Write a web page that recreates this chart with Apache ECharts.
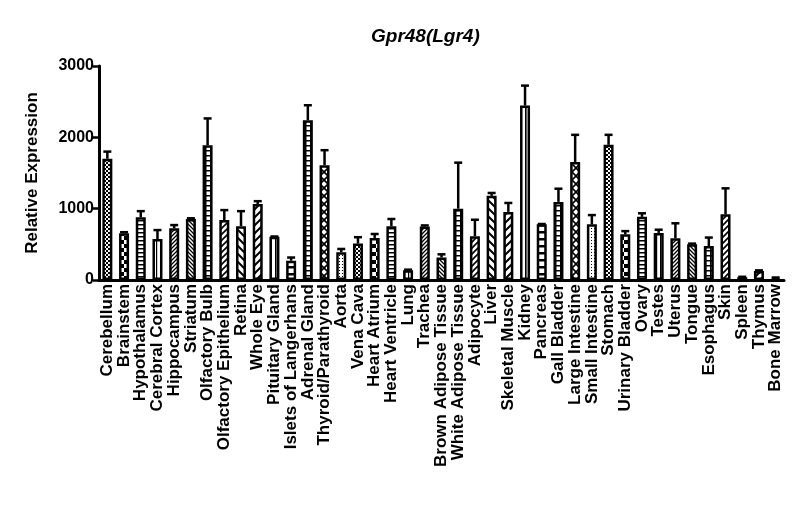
<!DOCTYPE html>
<html>
<head>
    <meta charset="utf-8">
    <script src="https://cdn.jsdelivr.net/npm/echarts@6/dist/echarts.min.js"></script>
    <style>
        html, body { margin: 0; padding: 0; background: #fff; }
        #main { width: 800px; height: 515px; }
    </style>
</head>
<body>
    <div id="main"></div>
    <script>
        var tissues = ['Cerebellum', 'Brainstem', 'Hypothalamus', 'Cerebral Cortex', 'Hippocampus', 'Striatum',
            'Olfactory Bulb', 'Olfactory Epithelium', 'Retina', 'Whole Eye', 'Pituitary Gland',
            'Islets of Langerhans', 'Adrenal Gland', 'Thyroid/Parathyroid', 'Aorta', 'Vena Cava',
            'Heart Atrium', 'Heart Ventricle', 'Lung', 'Trachea', 'Brown Adipose Tissue',
            'White Adipose Tissue', 'Adipocyte', 'Liver', 'Skeletal Muscle', 'Kidney', 'Pancreas',
            'Gall Bladder', 'Large Intestine', 'Small Intestine', 'Stomach', 'Urinary Bladder', 'Ovary',
            'Testes', 'Uterus', 'Tongue', 'Esophagus', 'Skin', 'Spleen', 'Thymus', 'Bone Marrow'];
        var expression = [1700, 655, 880, 575, 725, 855, 1890, 840, 755, 1065, 605,
            270, 2240, 1610, 390, 510, 590, 755, 135, 750, 315,
            1000, 615, 1180, 955, 2445, 780, 1095, 1655, 780, 1895, 640, 885,
            660, 585, 500, 475, 920, 40, 125, 30];
        var sem = [100, 15, 85, 125, 45, 10, 375, 140, 210, 40, 5,
            45, 210, 210, 45, 90, 55, 100, 10, 15, 45,
            645, 230, 40, 125, 280, 5, 185, 380, 130, 140, 45, 50,
            45, 210, 10, 120, 365, 5, 10, 5];
        var yTicks = [0, 1000, 2000, 3000];

        // fill patterns, cycled the way the original plot does it
        var patternCycle = ['checkFine', 'checkLarge', 'hLines', 'vLines', 'diagFineR', 'diagFineL', 'grid',
            'diagMedR', 'diagWideL', 'diagWideR', 'vWide', 'hWide', 'grid', 'cross', 'dots'];

        function makePattern(type) {
            var sizes = { checkFine: 4, checkLarge: 8, hLines: 4, vLines: 4, diagFineR: 4, diagFineL: 4,
                grid: 5, diagMedR: 6, diagWideL: 8, diagWideR: 8, vWide: 5, hWide: 7, cross: 8, dots: 3 };
            var s = sizes[type];
            var c = document.createElement('canvas');
            c.width = s; c.height = s;
            var g = c.getContext('2d');
            g.fillStyle = '#fff';
            g.fillRect(0, 0, s, s);
            g.fillStyle = '#000';
            g.strokeStyle = '#000';
            function diag(dir, w) {
                g.lineWidth = w;
                g.beginPath();
                for (var k = -1; k <= 1; k++) {
                    if (dir > 0) {
                        g.moveTo(k * s - 1, s + 1); g.lineTo(k * s + s + 1, -1);
                    } else {
                        g.moveTo(k * s - 1, -1); g.lineTo(k * s + s + 1, s + 1);
                    }
                }
                g.stroke();
            }
            if (type === 'checkFine') {
                g.fillRect(0, 0, 2, 2); g.fillRect(2, 2, 2, 2);
            } else if (type === 'checkLarge') {
                g.fillRect(0, 0, 4, 4); g.fillRect(4, 4, 4, 4);
            } else if (type === 'hLines') {
                g.fillRect(0, 0, s, 1.5);
            } else if (type === 'vLines') {
                g.fillRect(0, 0, 1.2, s);
            } else if (type === 'diagFineR') {
                diag(1, 1.3);
            } else if (type === 'diagFineL') {
                diag(-1, 1.3);
            } else if (type === 'grid') {
                g.fillRect(0, 0, s, 1.5); g.fillRect(0, 0, 1.5, s);
            } else if (type === 'diagMedR') {
                diag(1, 1.6);
            } else if (type === 'diagWideL') {
                diag(-1, 2);
            } else if (type === 'diagWideR') {
                diag(1, 2);
            } else if (type === 'vWide') {
                g.fillRect(0, 0, 1.6, s);
            } else if (type === 'hWide') {
                g.fillRect(0, 0, s, 2.5);
            } else if (type === 'cross') {
                diag(1, 1.6); diag(-1, 1.6);
            } else if (type === 'dots') {
                g.fillRect(0, 0, 1, 1);
            }
            return { image: c, repeat: 'repeat' };
        }

        var barData = expression.map(function (v, i) {
            return {
                value: v,
                itemStyle: { color: makePattern(patternCycle[i % patternCycle.length]) }
            };
        });
        var errData = expression.map(function (v, i) {
            return [i, v, sem[i]];
        });

        var chart = echarts.init(document.getElementById('main'), null, { renderer: 'canvas' });
        var font = 'Arial, "Liberation Sans", Helvetica, sans-serif';

        var option = {
            animation: false,
            backgroundColor: '#fff',
            title: {
                text: 'Gpr48(Lgr4)',
                left: 366,
                top: 22,
                textStyle: { fontFamily: font, fontSize: 19, fontWeight: 'bold', fontStyle: 'italic', color: '#000' }
            },
            grid: { left: 99, right: 16, top: 66, bottom: 235 },
            xAxis: {
                type: 'category',
                data: tissues,
                axisLine: { lineStyle: { color: '#000', width: 3 } },
                axisTick: { alignWithLabel: true, length: 5, lineStyle: { color: '#000', width: 2 } },
                axisLabel: {
                    interval: 0, rotate: 90, margin: 4,
                    fontFamily: font, fontSize: 17, fontWeight: 'bold', color: '#000'
                }
            },
            yAxis: {
                type: 'value',
                min: 0, max: 3000, interval: 1000,
                name: 'Relative Expression',
                nameLocation: 'middle',
                nameGap: 58,
                nameTextStyle: { fontFamily: font, fontSize: 17, fontWeight: 'bold', color: '#000' },
                splitLine: { show: false },
                axisLine: { show: true, lineStyle: { color: '#000', width: 3 } },
                axisTick: { show: true, length: 6, lineStyle: { color: '#000', width: 2.5 } },
                axisLabel: {
                    margin: 5,
                    fontFamily: font, fontSize: 16, fontWeight: 'bold', color: '#000',
                    formatter: function (v) { return yTicks.indexOf(v) >= 0 ? String(v) : ''; }
                }
            },
            series: [{
                type: 'bar',
                data: barData,
                barWidth: 10,
                itemStyle: { borderColor: '#000', borderWidth: 2.5 },
                z: 3
            }, {
                type: 'custom',
                data: errData,
                z: 4,
                renderItem: function (params, api) {
                    var base = api.coord([api.value(0), api.value(1)]);
                    var top = api.coord([api.value(0), api.value(1) + api.value(2)]);
                    var st = { stroke: '#000', lineWidth: 2.5 };
                    return {
                        type: 'group',
                        children: [{
                            type: 'line',
                            shape: { x1: base[0], y1: base[1], x2: base[0], y2: top[1] },
                            style: st
                        }, {
                            type: 'line',
                            shape: { x1: base[0] - 4, y1: top[1], x2: base[0] + 4, y2: top[1] },
                            style: st
                        }]
                    };
                }
            }]
        };
        chart.setOption(option);
    </script>
</body>
</html>
